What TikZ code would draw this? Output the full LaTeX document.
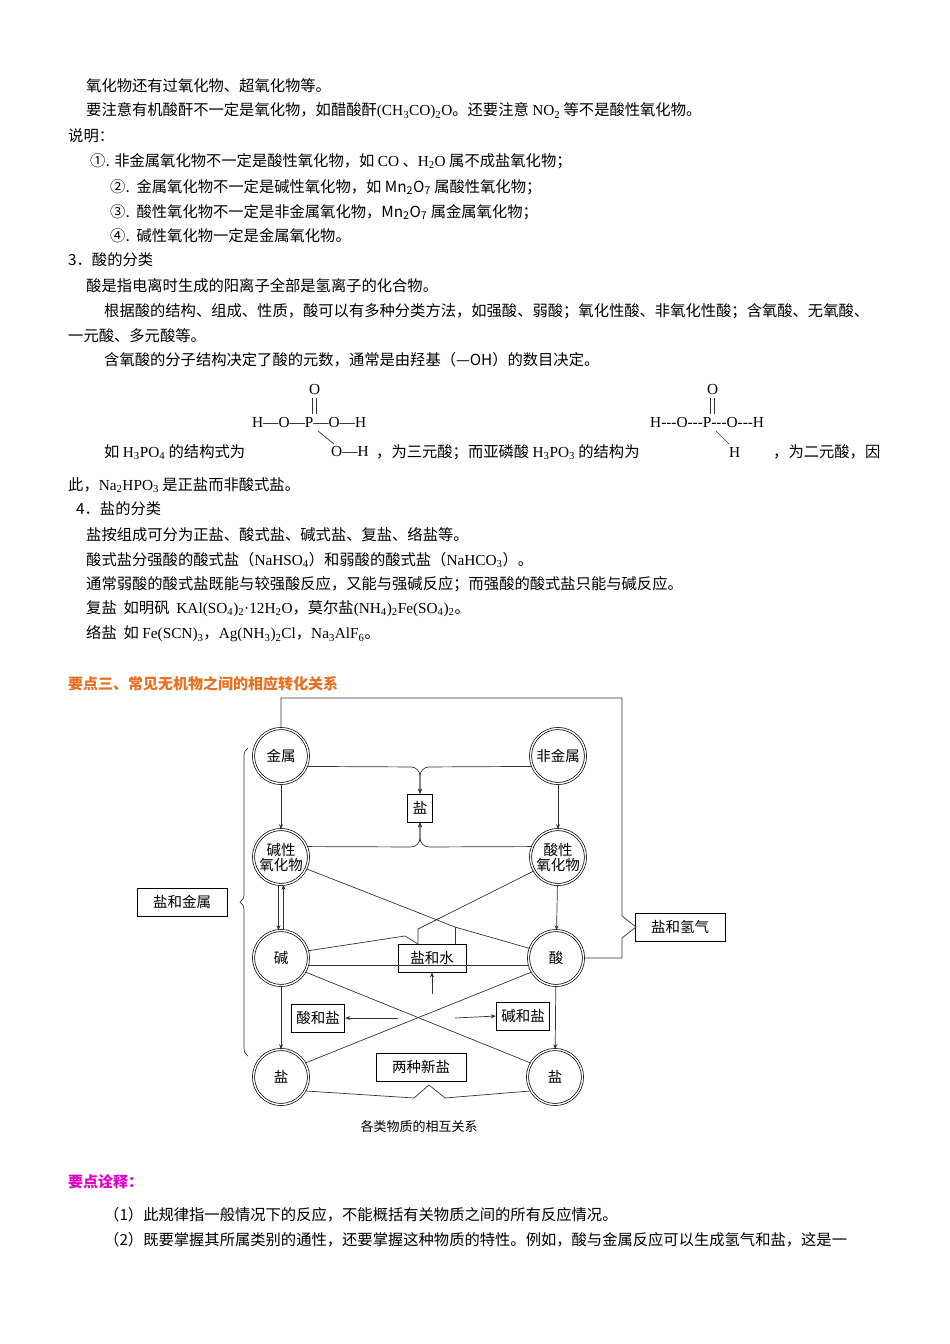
\documentclass[tikz,border=0pt]{standalone}
\usepackage{fontspec}
\setmainfont{Noto Sans CJK SC}
\newfontfamily\latin{Liberation Serif}
\usetikzlibrary{arrows.meta,decorations.pathreplacing}
\newcommand\sub[1]{\textsubscript{#1}}
\newcommand\ltn[1]{{\latin #1}}
\definecolor{headorange}{RGB}{235,110,30}
\definecolor{headpink}{RGB}{225,0,200}
\begin{document}
\begin{tikzpicture}[x=1pt,y=-1pt,
    txt/.style={anchor=west,inner sep=0pt,font=\fontsize{15.3}{17}\selectfont},
    ball/.style={circle,draw,double,double distance=1.4pt,line width=0.7pt,minimum size=55pt,inner sep=0pt,font=\fontsize{14.5}{17}\selectfont,align=center},
    tag/.style={draw,rectangle,line width=0.7pt,minimum height=28pt,inner sep=5pt,font=\fontsize{14.5}{16}\selectfont},
    link/.style={line width=0.7pt,draw=black!80},
    arr/.style={link,-{Stealth[length=5pt,width=4pt]}}]

    \useasboundingbox (0,0) rectangle (950,1344);

    % text above
    \node[txt] (l1) at (86,86) {氧化物还有过氧化物、超氧化物等。};
    \node[txt] (l2) at (86,111) {要注意有机酸酐不一定是氧化物，如醋酸酐\ltn{(CH\sub{3}CO)\sub{2}O}。还要注意 \ltn{NO\sub{2}} 等不是酸性氧化物。};
    \node[txt] (l3) at (68,136) {说明：};
    \node[txt] (l4) at (90,161) {①. 非金属氧化物不一定是酸性氧化物，如 \ltn{CO} 、\ltn{H\sub{2}O} 属不成盐氧化物；};
    \node[txt] (l5) at (110,187) {②.\ \ 金属氧化物不一定是碱性氧化物，如 Mn\sub{2}O\sub{7} 属酸性氧化物；};
    \node[txt] (l6) at (110,212) {③.\ \ 酸性氧化物不一定是非金属氧化物，Mn\sub{2}O\sub{7} 属金属氧化物；};
    \node[txt] (l7) at (110,236) {④.\ \ 碱性氧化物一定是金属氧化物。};
    \node[txt] (l8) at (68,260) {3．酸的分类};
    \node[txt] (l9) at (86,286) {酸是指电离时生成的阳离子全部是氢离子的化合物。};
    \node[txt] (l10) at (104,311) {根据酸的结构、组成、性质，酸可以有多种分类方法，如强酸、弱酸；氧化性酸、非氧化性酸；含氧酸、无氧酸、};
    \node[txt] (l11) at (68,336) {一元酸、多元酸等。};
    \node[txt] (l12) at (104,360) {含氧酸的分子结构决定了酸的元数，通常是由羟基（—OH）的数目决定。};

    % structure formulas
    \node[txt] (s1) at (252,423) {\ltn{H—O—P—O—H}};
    \node[txt] (s1o) at (309,390) {\ltn{O}};
    \draw[link] (312,398) -- (312,414) (316,398) -- (316,414);
    \node[txt] (s1b) at (331,452) {\ltn{O—H}};
    \draw[link] (318,431) -- (334,444);
    \node[txt] (l13) at (104,452) {如 \ltn{H\sub{3}PO\sub{4}} 的结构式为};
    \node[txt] (l14) at (376,452) {，为三元酸；而亚磷酸 \ltn{H\sub{3}PO\sub{3}} 的结构为};
    \node[txt] (s2) at (650,423) {\ltn{H---O---P---O---H}};
    \node[txt] (s2o) at (707,390) {\ltn{O}};
    \draw[link] (710,398) -- (710,414) (714,398) -- (714,414);
    \node[txt] (s2b) at (729,452) {\ltn{H}};
    \draw[link] (716,431) -- (729,444);
    \node[txt] (l15) at (773,452) {，为二元酸，因};
    \node[txt] (l16) at (68,485) {此，\ltn{Na\sub{2}HPO\sub{3}} 是正盐而非酸式盐。};
    \node[txt] (l17) at (76,509) {4．盐的分类};
    \node[txt] (l18) at (86,535) {盐按组成可分为正盐、酸式盐、碱式盐、复盐、络盐等。};
    \node[txt] (l19) at (86,560) {酸式盐分强酸的酸式盐（\ltn{NaHSO\sub{4}}）和弱酸的酸式盐（\ltn{NaHCO\sub{3}}）。};
    \node[txt] (l20) at (86,584) {通常弱酸的酸式盐既能与较强酸反应，又能与强碱反应；而强酸的酸式盐只能与碱反应。};
    \node[txt] (l21) at (86,609) {复盐\ \ 如明矾\ \ \ltn{KAl(SO\sub{4})\sub{2}·12H\sub{2}O}，莫尔盐\ltn{(NH\sub{4})\sub{2}Fe(SO\sub{4})\sub{2}}。};
    \node[txt] (l22) at (86,634) {络盐\ \ 如 \ltn{Fe(SCN)\sub{3}}，\ltn{Ag(NH\sub{3})\sub{2}Cl}，\ltn{Na\sub{3}AlF\sub{6}}。};
    \node[txt,text=headorange,font=\bfseries\fontsize{15}{17}\selectfont] (head1) at (68,684) {要点三、常见无机物之间的相应转化关系};

    % diagram nodes
    \node[ball] (jinshu) at (281,756) {金属};
    \node[ball] (feijinshu) at (558,756) {非金属};
    \node[tag] (yan) at (420,808) {盐};
    \node[ball] (jianox) at (281,857) {碱性\\[-2pt]氧化物};
    \node[ball] (suanox) at (558,857) {酸性\\[-2pt]氧化物};
    \node[ball] (jian) at (281,958) {碱};
    \node[ball] (suan) at (556,958) {酸};
    \node[ball] (yanL) at (281,1077) {盐};
    \node[ball] (yanR) at (555,1077) {盐};
    \node[tag,minimum width=90pt] (yanjinshu) at (182,902) {盐和金属};
    \node[tag,minimum width=90pt] (yanqing) at (680,927) {盐和氢气};
    \node[tag,minimum width=68pt] (yanshui) at (432,958) {盐和水};
    \node[tag] (suanyan) at (318,1018) {酸和盐};
    \node[tag] (jianyan) at (523,1016) {碱和盐};
    \node[tag,minimum width=90pt] (xinyan) at (421,1067) {两种新盐};
    \node[font=\fontsize{13}{15}\selectfont] (cap) at (419,1127) {各类物质的相互关系};
    \coordinate (up) at (432,994);

    % connectors
    \draw[link] (jinshu.north) |- (622,698) -- (622,916) -- (636,927) -- (622,938) |- (suan.east);
    \draw[arr,rounded corners=9pt] (jinshu.-22) -- (420,767) -- (yan.north);
    \draw[arr,rounded corners=9pt] (feijinshu.-158) -- (420,767) -- (yan.north);
    \draw[arr,rounded corners=9pt] (jianox.22) -- (420,847) -- (yan.south);
    \draw[arr,rounded corners=9pt] (suanox.158) -- (420,847) -- (yan.south);
    \draw[arr] (jinshu) -- (jianox);
    \draw[arr] (feijinshu) -- (suanox);
    \draw[arr] (suanox) -- (suan);
    \draw[arr] ([xshift=-2.5pt]jianox.south) -- ([xshift=-2.5pt]jian.north);
    \draw[arr] ([xshift=2.5pt]jian.north) -- ([xshift=2.5pt]jianox.south);
    \draw[link] (jianox.-25) -- (455,927) -- (suan.160);
    \draw[link] (455,927) -- (455,944);
    \draw[link] (suanox.-150) -- (418,929) -- (418,944);
    \draw[link] (jian.15) -- (405,936) -- (418,944);
    \draw[link] (jian.-15) -- (suan.-165);
    \draw[arr] (up) -- (yanshui.south);
    \draw[link] (jian.-30) -- (yanR.150);
    \draw[link] (suan.-150) -- (yanL.30);
    \draw[arr] (398,1018) -- (suanyan.east);
    \draw[arr] (455,1018) -- (jianyan.west);
    \draw[arr] (jian) -- (yanL);
    \draw[arr] (suan) -- (yanR);
    \draw[link] (yanL.-30) -- (414,1098) -- (429,1085) -- (445,1098) -- (yanR.-150);
    \draw[link,decorate,decoration={brace,amplitude=8pt}] (248,1056) -- (248,748);

    % text below
    \node[txt,text=headpink,font=\bfseries\fontsize{15}{17}\selectfont] (head2) at (68,1182) {要点诠释：};
    \node[txt] (l23) at (104,1215) {（1）此规律指一般情况下的反应，不能概括有关物质之间的所有反应情况。};
    \node[txt] (l24) at (104,1240) {（2）既要掌握其所属类别的通性，还要掌握这种物质的特性。例如，酸与金属反应可以生成氢气和盐，这是一};
\end{tikzpicture}
\end{document}
